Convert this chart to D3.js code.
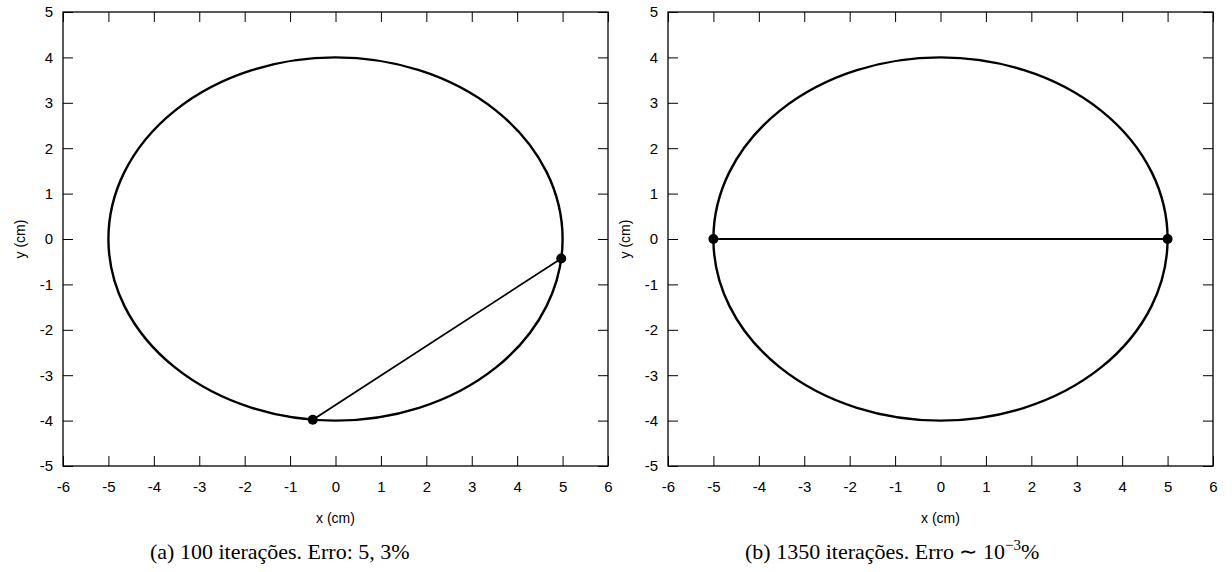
<!DOCTYPE html>
<html>
<head>
<meta charset="utf-8">
<script src="https://cdn.jsdelivr.net/npm/d3@7"></script>
<style>
  body { margin: 0; background: #fff; }
  svg text { fill: #000; }
</style>
</head>
<body>
<svg id="chart" width="1232" height="572"></svg>
<script>
// axis ticks
const xTicks = [-6, -5, -4, -3, -2, -1, 0, 1, 2, 3, 4, 5, 6];
const yTicks = [-5, -4, -3, -2, -1, 0, 1, 2, 3, 4, 5];

// ellipse semi-axes (cm)
const semiAxes = [5, 4];

// chord end points for each run
const chordA = [[4.97, -0.43], [-0.5, -3.98]];
const chordB = [[-5, 0], [5, 0]];

const panels = [
  { left: 63, chord: chordA },
  { left: 668, chord: chordB }
];

const svg = d3.select("#chart");
const W = 545, H = 454, plotTop = 12;
const fmt = d => String(d); // plain hyphen minus like the original

panels.forEach(p => {
  const x = d3.scaleLinear().domain([-6, 6]).range([p.left, p.left + W]);
  const y = d3.scaleLinear().domain([-5, 5]).range([plotTop + H, plotTop]);
  const g = svg.append("g");

  // inward ticks on all four sides
  const tl = 10;
  g.append("g").attr("transform", `translate(0,${plotTop + H})`)
    .call(d3.axisBottom(x).tickValues(xTicks).tickSize(-tl).tickPadding(15).tickFormat(fmt));
  g.append("g").attr("transform", `translate(0,${plotTop})`)
    .call(d3.axisTop(x).tickValues(xTicks).tickSize(-tl).tickFormat(""));
  g.append("g").attr("transform", `translate(${p.left},0)`)
    .call(d3.axisLeft(y).tickValues(yTicks).tickSize(-tl).tickPadding(10).tickFormat(fmt));
  g.append("g").attr("transform", `translate(${p.left + W},0)`)
    .call(d3.axisRight(y).tickValues(yTicks).tickSize(-tl).tickFormat(""));

  g.selectAll(".domain").remove();
  g.selectAll(".tick line").attr("stroke", "#000").attr("stroke-width", 1);
  g.selectAll(".tick text").attr("font-family", "Liberation Sans, Arial, sans-serif")
    .attr("font-size", 15).attr("fill", "#000");

  g.append("rect").attr("x", p.left).attr("y", plotTop).attr("width", W).attr("height", H)
    .attr("fill", "none").attr("stroke", "#000").attr("stroke-width", 1.3);

  // ellipse
  g.append("ellipse")
    .attr("cx", x(0)).attr("cy", y(0))
    .attr("rx", x(semiAxes[0]) - x(0)).attr("ry", y(0) - y(semiAxes[1]))
    .attr("fill", "none").attr("stroke", "#000").attr("stroke-width", 2.4);

  // chord
  g.append("path")
    .attr("d", d3.line().x(d => x(d[0])).y(d => y(d[1]))(p.chord))
    .attr("fill", "none").attr("stroke", "#000").attr("stroke-width", 1.8);

  g.selectAll("circle.pt").data(p.chord).join("circle")
    .attr("class", "pt")
    .attr("cx", d => x(d[0])).attr("cy", d => y(d[1])).attr("r", 5)
    .attr("fill", "#000");

  // axis titles
  g.append("text").attr("x", x(0)).attr("y", 523).attr("text-anchor", "middle")
    .attr("font-family", "Liberation Sans, Arial, sans-serif").attr("font-size", 14)
    .text("x (cm)");
  g.append("text")
    .attr("transform", `translate(${p.left - 38},${y(0)}) rotate(-90)`)
    .attr("text-anchor", "middle")
    .attr("font-family", "Liberation Sans, Arial, sans-serif").attr("font-size", 14)
    .text("y (cm)");
});

// captions
const capFont = "Liberation Serif, Times New Roman, serif";
const capA = svg.append("text").attr("x", 150).attr("y", 559)
  .attr("font-family", capFont).attr("font-size", 22);
capA.append("tspan").text("(a) 100 iterações. Erro: ");
capA.append("tspan").text("5, 3%");

const capB = svg.append("text").attr("x", 745).attr("y", 559)
  .attr("font-family", capFont).attr("font-size", 22);
capB.append("tspan").text("(b) 1350 iterações. Erro ");
capB.append("tspan").text("∼ 10");
capB.append("tspan").attr("dy", -9).attr("font-size", 15).text("−3");
capB.append("tspan").attr("dy", 9).text("%");
</script>
</body>
</html>
